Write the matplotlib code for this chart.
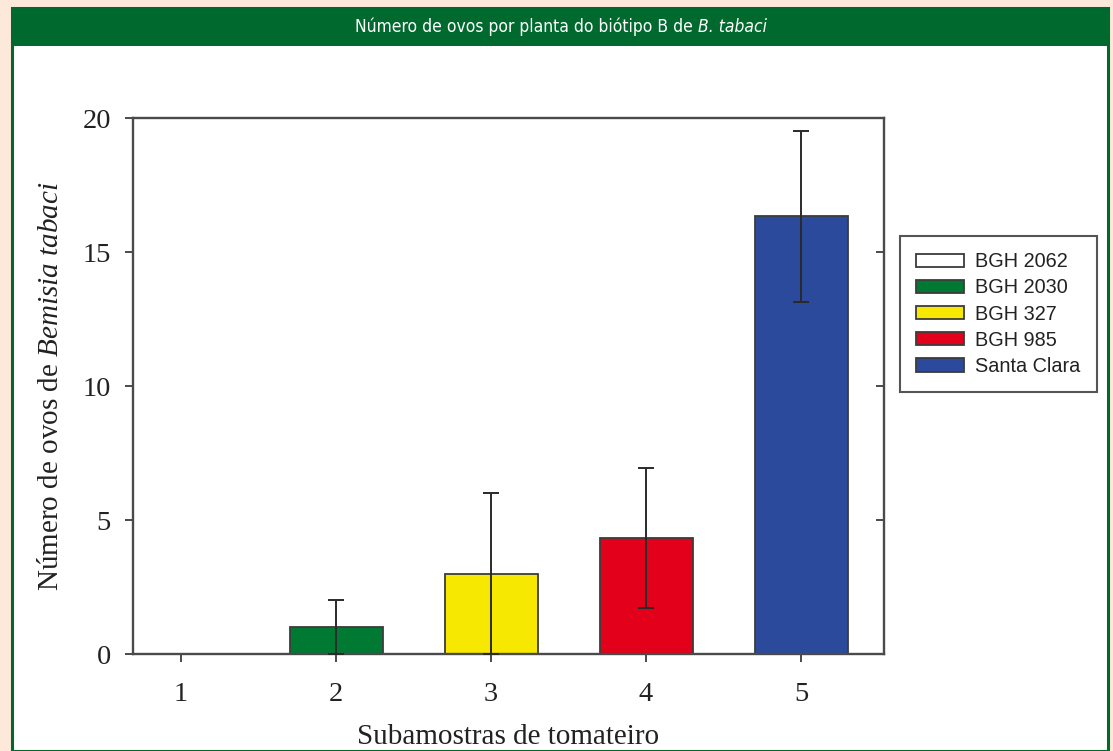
import matplotlib
matplotlib.use("Agg")
import matplotlib.pyplot as plt
from matplotlib.patches import Rectangle, Patch

# Data
subsamples = [1, 2, 3, 4, 5]
accessions = ["BGH 2062", "BGH 2030", "BGH 327", "BGH 985", "Santa Clara"]
eggs_mean = [0.0, 1.0, 3.0, 4.33, 16.33]
eggs_err = [0.0, 1.0, 3.0, 2.6, 3.2]
bar_colors = ["#ffffff", "#007a33", "#f6e800", "#e2001a", "#2b4a9b"]

PEACH = "#fde9d9"
FRAME_GREEN = "#006a2e"
EDGE = "#3c3c3c"

plt.rcParams["mathtext.fontset"] = "custom"
plt.rcParams["mathtext.it"] = "Liberation Serif:italic"
plt.rcParams["mathtext.rm"] = "Liberation Serif"

W, H = 1113, 751
fig = plt.figure(figsize=(W / 100, H / 100), dpi=100, facecolor=PEACH)

# Boxed panel: white body with green border and header strip
fig.patches.append(Rectangle((12 / W, 0), (1108 - 12) / W, 1 - 8 / H,
                             transform=fig.transFigure, facecolor="white",
                             edgecolor=FRAME_GREEN, linewidth=2.2, zorder=-3))
fig.patches.append(Rectangle((12 / W, 1 - 46 / H), (1108 - 12) / W, 38 / H,
                             transform=fig.transFigure, facecolor=FRAME_GREEN,
                             edgecolor="none", zorder=-2))

# Header title (roman part + italic species name)
title_font = ["Liberation Sans Narrow", "DejaVu Sans"]
t1 = fig.text(0, 1 - 27 / H, "Número de ovos por planta do biótipo B de ",
              color="white", fontsize=12.5, family=title_font, stretch="condensed",
              va="center", ha="left")
t2 = fig.text(0, 1 - 27 / H, "B. tabaci", color="white", fontsize=12.5,
              family=title_font, stretch="condensed", style="italic",
              va="center", ha="left")
fig.canvas.draw()
r = fig.canvas.get_renderer()
w1 = t1.get_window_extent(r).width
w2 = t2.get_window_extent(r).width
x0 = 561 - (w1 + w2) / 2
t1.set_x(x0 / W)
t2.set_x((x0 + w1) / W)

# Axes
ax = fig.add_axes([133 / W, 1 - 654 / H, (884 - 133) / W, (654 - 118) / H])
ax.set_facecolor("white")
ax.bar(subsamples, eggs_mean, width=0.6, color=bar_colors, edgecolor=EDGE,
       linewidth=1.3, zorder=2)
with_err = [i for i, e in enumerate(eggs_err) if e > 0]
ax.errorbar([subsamples[i] for i in with_err], [eggs_mean[i] for i in with_err],
            yerr=[eggs_err[i] for i in with_err], fmt="none", ecolor="#2a2a2a",
            elinewidth=1.4, capsize=6, capthick=1.4, zorder=3)

ax.set_xlim(0.69, 5.535)
ax.set_ylim(0, 20)
ax.set_xticks(subsamples)
ax.set_yticks([0, 5, 10, 15, 20])

serif = ["Liberation Serif", "DejaVu Serif"]
for s in ax.spines.values():
    s.set_color("#4a4a4a")
    s.set_linewidth(1.7)
ax.tick_params(axis="both", direction="out", length=6, width=1.4,
               color="#4a4a4a", labelsize=20.5, pad=10)
ax.tick_params(axis="x", pad=14)
for lbl in ax.get_xticklabels() + ax.get_yticklabels():
    lbl.set_family(serif)
    lbl.set_color("#222222")

# Inward ticks on the right spine
ax_r = ax.twinx()
ax_r.set_ylim(0, 20)
ax_r.set_yticks([0, 5, 10, 15, 20])
ax_r.tick_params(axis="y", direction="in", length=6, width=1.4,
                 color="#4a4a4a", labelright=False)
for s in ax_r.spines.values():
    s.set_visible(False)

ax.set_ylabel("Número de ovos de $\\mathit{Bemisia\\ tabaci}$", fontsize=21,
              family=serif, color="#222222", labelpad=13)
ax.set_xlabel("Subamostras de tomateiro", fontsize=21, family=serif,
              color="#222222")
ax.xaxis.set_label_coords(0.5, -(750 - 654) / (654 - 118))
ax.xaxis.label.set_va("bottom")

# Legend
handles = [Patch(facecolor=c, edgecolor=EDGE, linewidth=1.3) for c in bar_colors]
leg = fig.legend(handles, accessions, loc="upper left",
                 bbox_to_anchor=(900 / W, 1 - 236 / H), borderaxespad=0,
                 prop={"family": ["Liberation Sans", "DejaVu Sans"], "size": 14.3},
                 handlelength=2.4, handleheight=0.66, handletextpad=0.58,
                 labelspacing=0.36, borderpad=0.82, fancybox=False,
                 frameon=True, edgecolor="#555555", framealpha=1)
leg.get_frame().set_linewidth(1.5)
for t in leg.get_texts():
    t.set_color("#222222")

fig.savefig("out.png", dpi=100, facecolor=PEACH)
